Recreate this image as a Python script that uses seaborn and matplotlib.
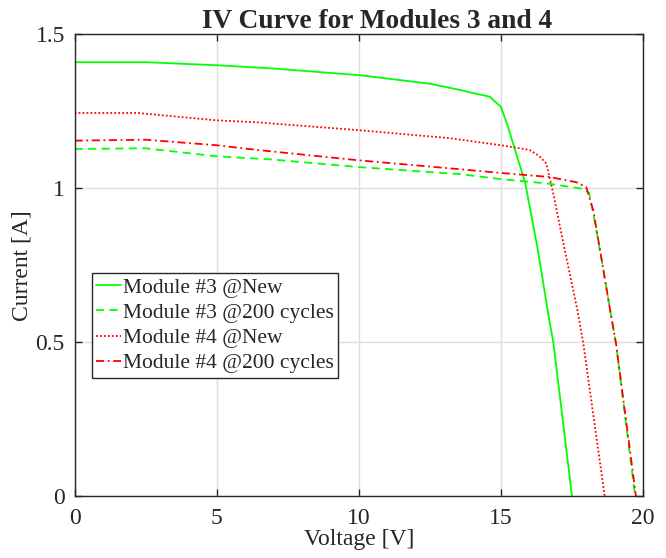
import matplotlib
matplotlib.use("Agg")
import matplotlib.pyplot as plt
import seaborn as sns
import pandas as pd

# ---- data ----
v_m3_new = [0, 2.5, 5, 6.9, 10, 12.5, 13.6, 14.0, 14.6, 15.0, 15.25, 15.42, 15.85, 16.3, 16.65, 16.85, 17.5]
i_m3_new = [1.41, 1.41, 1.40, 1.39, 1.368, 1.34, 1.319, 1.31, 1.298, 1.265, 1.20, 1.148, 1.02, 0.80, 0.60, 0.495, 0.0]

v_m3_200 = [0, 2.5, 5, 6.9, 10, 13.56, 15, 16.7, 17.9, 18.1, 18.25, 18.55, 18.85, 19.05, 19.72]
i_m3_200 = [1.128, 1.13, 1.104, 1.094, 1.069, 1.046, 1.03, 1.015, 0.998, 0.985, 0.918, 0.765, 0.60, 0.495, 0.0]

v_m4_new = [0, 2.2, 5, 6.5, 10, 13.2, 15.0, 16.0, 16.35, 16.6, 16.85, 17.2, 17.7, 17.9, 18.65]
i_m4_new = [1.245, 1.245, 1.221, 1.214, 1.189, 1.163, 1.14, 1.125, 1.105, 1.08, 0.98, 0.82, 0.60, 0.495, 0.0]

v_m4_200 = [0, 2.5, 5, 6.5, 10, 13.56, 15, 16.7, 17.65, 18.0, 18.25, 18.55, 18.85, 19.05, 19.75]
i_m4_200 = [1.155, 1.158, 1.14, 1.124, 1.091, 1.062, 1.05, 1.037, 1.02, 1.004, 0.928, 0.765, 0.60, 0.495, 0.0]

labels = ["Module #3 @New", "Module #3 @200 cycles", "Module #4 @New", "Module #4 @200 cycles"]
x_ticks = [0, 5, 10, 15, 20]
y_ticks = [0, 0.5, 1, 1.5]
y_tick_labels = ["0", "0.5", "1", "1.5"]

sns.set_theme(style="white")
plt.rcParams["font.family"] = ["Liberation Serif", "DejaVu Serif"]

fig = plt.figure(figsize=(6.66, 5.58), dpi=100)
ax = fig.add_axes([0.112, 0.1111, 0.8535, 0.8271])

series = [
    (v_m3_new, i_m3_new, labels[0], (0, 1, 0), "-"),
    (v_m3_200, i_m3_200, labels[1], (0, 1, 0), (0, (4.5, 3))),
    (v_m4_new, i_m4_new, labels[2], (1, 0, 0), (0, (1, 1.2))),
    (v_m4_200, i_m4_200, labels[3], (1, 0, 0), (0, (4.5, 2, 1, 2))),
]
for v, i, lab, col, ls in series:
    df = pd.DataFrame({"Voltage": v, "Current": i})
    sns.lineplot(data=df, x="Voltage", y="Current", ax=ax, color=col,
                 linestyle=ls, linewidth=1.3, label=lab, estimator=None, sort=False)

dark = (0.15, 0.15, 0.15)
ax.set_xlim(0, 20)
ax.set_ylim(0, 1.5)
ax.set_xticks(x_ticks)
ax.set_xticklabels([str(t) for t in x_ticks])
ax.set_yticks(y_ticks)
ax.set_yticklabels(y_tick_labels)
ax.grid(True, color=(0.87, 0.87, 0.87), linewidth=1.0)
ax.set_axisbelow(True)
for s in ax.spines.values():
    s.set_visible(True)
    s.set_color(dark)
    s.set_linewidth(1.0)
ax.tick_params(axis="both", which="both", direction="in", length=5, width=1.0,
               color=dark, labelsize=17, labelcolor=dark,
               top=True, right=True, bottom=True, left=True)
ax.tick_params(axis="x", pad=8.5)
ax.tick_params(axis="y", pad=7)

ax.set_xlabel("Voltage [V]", fontsize=17, color=dark, labelpad=0)
ax.set_ylabel("Current [A]", fontsize=17, color=dark, labelpad=2)
ax.set_title("IV Curve for Modules 3 and 4", fontsize=19.7, fontweight="bold", pad=5, x=0.532)

leg = ax.legend(loc="upper left", bbox_to_anchor=(0.030, 0.4826), fontsize=15.5,
                frameon=True, fancybox=False, framealpha=1, edgecolor=dark,
                handlelength=1.15, handletextpad=0.1, borderpad=0.2, labelspacing=0.24,
                borderaxespad=0)
leg.get_frame().set_linewidth(1.0)

fig.savefig("out.png", dpi=100)
